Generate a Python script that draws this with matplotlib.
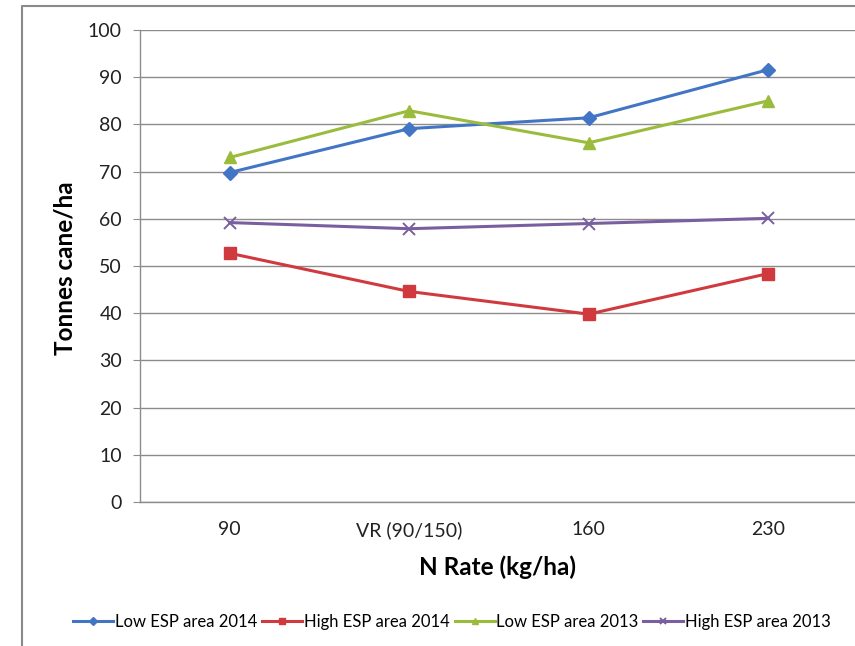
import matplotlib
matplotlib.use('Agg')
import matplotlib.pyplot as plt
from matplotlib.lines import Line2D

plt.rcParams['font.family'] = ['Lato', 'DejaVu Sans']

# data
CATEGORIES = ['90', 'VR (90/150)', '160', '230']
LOW_ESP_2014 = [69.8, 79.1, 81.4, 91.6]
HIGH_ESP_2014 = [52.7, 44.6, 39.8, 48.4]
LOW_ESP_2013 = [73.0, 82.9, 76.1, 85.0]
HIGH_ESP_2013 = [59.2, 57.9, 59.0, 60.1]

SERIES = [
    ('Low ESP area 2014', LOW_ESP_2014, '#4276C4', 'D', 7),
    ('High ESP area 2014', HIGH_ESP_2014, '#D03A3E', 's', 8),
    ('Low ESP area 2013', LOW_ESP_2013, '#9BBB3C', '^', 8),
    ('High ESP area 2013', HIGH_ESP_2013, '#7A5FA0', 'x', 8),
]

W, H = 855, 646
fig = plt.figure(figsize=(W / 100, H / 100), dpi=100)
fig.patch.set_facecolor('white')

# plot area in pixel terms (right edge runs just past the image)
left, right, top, bottom = 140, 858, 30, 502
ax = fig.add_axes([left / W, 1 - bottom / H, (right - left) / W, (bottom - top) / H])

x = [i + 0.5 for i in range(len(CATEGORIES))]
for label, values, color, marker, ms in SERIES:
    if marker == 'x':
        ax.plot(x, values, color=color, lw=2.2, marker=marker, ms=ms,
                mew=1.4, label=label, clip_on=False)
    else:
        ax.plot(x, values, color=color, lw=2.2, marker=marker, ms=ms,
                label=label, clip_on=False)

ax.set_xlim(0, len(CATEGORIES))
ax.set_ylim(0, 100)
ax.set_yticks(range(0, 101, 10))
ax.set_xticks(x)
ax.set_xticklabels(CATEGORIES)

ax.yaxis.grid(True, color='#8c8c8c', lw=1)
ax.set_axisbelow(True)
for side in ['top', 'right']:
    ax.spines[side].set_visible(False)
for side in ['left', 'bottom']:
    ax.spines[side].set_color('#8c8c8c')
    ax.spines[side].set_linewidth(1)

ax.tick_params(axis='y', length=5, color='#8c8c8c', pad=8, labelsize=14, labelcolor='#222222')
ax.tick_params(axis='x', length=0, pad=14, labelsize=14, labelcolor='#222222')

ax.set_ylabel('Tonnes cane/ha', fontsize=17.5, fontweight='bold')
ax.set_xlabel('N Rate (kg/ha)', fontsize=17.5, fontweight='bold')
ax.xaxis.set_label_coords((497 - left) / (right - left), -(567 - bottom) / (bottom - top))
ax.yaxis.set_label_coords(-(left - 65) / (right - left), (bottom - 268) / (bottom - top))
ax.xaxis.label.set_va('center')
ax.yaxis.label.set_va('center')

fig.legend(loc='center', bbox_to_anchor=(452 / W, 1 - 622 / H), ncol=4, frameon=False,
           fontsize=12, handlelength=2.4, handletextpad=0.1, columnspacing=0.3,
           markerscale=0.6, borderaxespad=0)

# outer chart border
fig.add_artist(Line2D([22 / W, 22 / W, 1], [0, 1 - 6 / H, 1 - 6 / H],
                      transform=fig.transFigure, color='#8a8a8a', lw=1.5))

fig.savefig('out.png', dpi=100)
